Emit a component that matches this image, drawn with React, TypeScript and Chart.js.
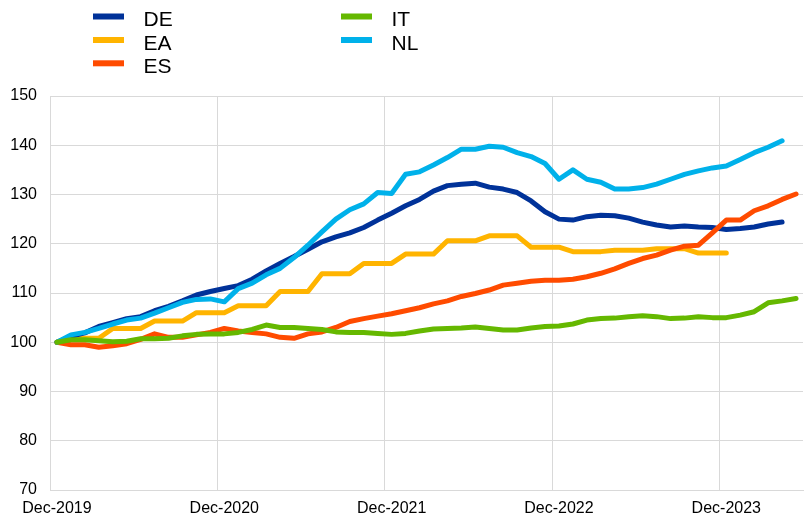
import React, { useEffect, useRef } from 'react';
import { Chart, registerables } from 'chart.js';

Chart.register(...registerables);

// Monthly categories, Dec-2019 .. May-2024
const months = [
  'Dec-2019',
  'Jan-2020', 'Feb-2020', 'Mar-2020', 'Apr-2020', 'May-2020', 'Jun-2020',
  'Jul-2020', 'Aug-2020', 'Sep-2020', 'Oct-2020', 'Nov-2020', 'Dec-2020',
  'Jan-2021', 'Feb-2021', 'Mar-2021', 'Apr-2021', 'May-2021', 'Jun-2021',
  'Jul-2021', 'Aug-2021', 'Sep-2021', 'Oct-2021', 'Nov-2021', 'Dec-2021',
  'Jan-2022', 'Feb-2022', 'Mar-2022', 'Apr-2022', 'May-2022', 'Jun-2022',
  'Jul-2022', 'Aug-2022', 'Sep-2022', 'Oct-2022', 'Nov-2022', 'Dec-2022',
  'Jan-2023', 'Feb-2023', 'Mar-2023', 'Apr-2023', 'May-2023', 'Jun-2023',
  'Jul-2023', 'Aug-2023', 'Sep-2023', 'Oct-2023', 'Nov-2023', 'Dec-2023',
  'Jan-2024', 'Feb-2024', 'Mar-2024', 'Apr-2024', 'May-2024',
];

const tickLabels = ['Dec-2019', 'Dec-2020', 'Dec-2021', 'Dec-2022', 'Dec-2023'];

const DE = [
  100, 101.2, 101.9, 103.2, 104.0, 104.8, 105.2, 106.4, 107.3, 108.4,
  109.6, 110.3, 110.9, 111.5, 112.8, 114.5, 116.0, 117.4, 118.9, 120.4,
  121.4, 122.2, 123.3, 124.8, 126.2, 127.7, 129.0, 130.7, 131.8, 132.1,
  132.3, 131.5, 131.1, 130.4, 128.7, 126.5, 125.0, 124.8, 125.5, 125.8,
  125.7, 125.2, 124.4, 123.8, 123.4, 123.6, 123.4, 123.3, 122.9, 123.1,
  123.4, 124.0, 124.4,
];

const EA = [
  100, 100.8, 100.8, 100.8, 102.8, 102.8, 102.8, 104.3, 104.3, 104.3,
  106.0, 106.0, 106.0, 107.4, 107.4, 107.4, 110.3, 110.3, 110.3, 113.9,
  113.9, 113.9, 116.0, 116.0, 116.0, 117.9, 117.9, 117.9, 120.6, 120.6,
  120.6, 121.6, 121.6, 121.6, 119.3, 119.3, 119.3, 118.4, 118.4, 118.4,
  118.7, 118.7, 118.7, 119.0, 119.0, 119.0, 118.1, 118.1, 118.1,
];

const ES = [
  100, 99.5, 99.5, 99.0, 99.3, 99.7, 100.6, 101.7, 101.0, 101.0,
  101.5, 102.0, 102.8, 102.3, 102.0, 101.7, 101.0, 100.8, 101.7, 102.1,
  103.0, 104.2, 104.8, 105.3, 105.8, 106.4, 107.0, 107.8, 108.4, 109.3,
  109.9, 110.6, 111.6, 112.0, 112.4, 112.6, 112.6, 112.8, 113.3, 114.0,
  114.9, 116.0, 117.0, 117.7, 118.7, 119.5, 119.7, 122.2, 124.8, 124.8,
  126.7, 127.7, 129.0, 130.1,
];

const IT = [
  100, 100.5, 100.5, 100.3, 100.1, 100.2, 100.7, 100.7, 100.8, 101.3,
  101.6, 101.7, 101.7, 102.0, 102.6, 103.5, 103.0, 103.0, 102.8, 102.6,
  102.1, 102.0, 102.0, 101.8, 101.6, 101.8, 102.3, 102.7, 102.8, 102.9,
  103.1, 102.8, 102.5, 102.5, 102.9, 103.2, 103.3, 103.7, 104.5, 104.8,
  104.9, 105.2, 105.4, 105.2, 104.8, 104.9, 105.2, 105.0, 105.0, 105.5,
  106.2, 108.0, 108.4, 108.9,
];

const NL = [
  100, 101.5, 102.0, 102.8, 103.7, 104.5, 104.9, 105.9, 107.0, 108.1,
  108.7, 108.8, 108.2, 110.9, 112.0, 113.7, 115.0, 117.2, 119.7, 122.4,
  125.0, 126.9, 128.1, 130.4, 130.2, 134.1, 134.6, 136.0, 137.5, 139.2,
  139.2, 139.8, 139.6, 138.5, 137.7, 136.3, 133.1, 135.0, 133.1, 132.5,
  131.1, 131.1, 131.4, 132.1, 133.1, 134.1, 134.8, 135.4, 135.8, 137.1,
  138.5, 139.6, 140.9,
];

const seriesNames = ['DE', 'EA', 'ES', 'IT', 'NL'];
const seriesData = [DE, EA, ES, IT, NL];
const seriesColors = ['#003299', '#ffb400', '#ff4b00', '#65b800', '#00b1ea'];
// drawing order (lower = on top)
const seriesOrder = [3, 4, 2, 0, 1];

const FONT = '"Liberation Sans", Arial, Helvetica, sans-serif';
const TEXT_COLOR = '#000000';
const GRID_COLOR = '#d9d9d9';

// legend layout: column x of swatch, row centre y
const legendCols = [93, 341];
const legendRows = [16.5, 40, 63.3];
const legendSlots = [
  [0, 0],
  [0, 1],
  [0, 2],
  [1, 0],
  [1, 1],
];

const legendPlugin = {
  id: 'twoColumnLegend',
  afterDraw(chart: any) {
    const ctx = chart.ctx;
    ctx.save();
    ctx.font = `21px ${FONT}`;
    ctx.textBaseline = 'alphabetic';
    ctx.textAlign = 'left';
    chart.data.datasets.forEach((ds: any, i: number) => {
      const [c, r] = legendSlots[i];
      const x = legendCols[c];
      const y = legendRows[r];
      ctx.fillStyle = ds.borderColor;
      ctx.fillRect(x, y - 3, 31, 6);
      ctx.fillStyle = TEXT_COLOR;
      ctx.fillText(ds.label, x + 50.5, y + 9.6);
    });
    ctx.restore();
  },
};

export default function App() {
  const canvasRef = useRef<HTMLCanvasElement | null>(null);

  useEffect(() => {
    if (!canvasRef.current) return;
    const chart = new Chart(canvasRef.current, {
      type: 'line',
      data: {
        labels: months,
        datasets: seriesNames.map((name, i) => ({
          label: name,
          data: seriesData[i],
          borderColor: seriesColors[i],
          backgroundColor: seriesColors[i],
          order: seriesOrder[i],
          fill: false,
        })),
      },
      options: {
        responsive: false,
        animation: false,
        layout: { padding: { top: 96, right: 4, bottom: 0, left: 0 } },
        plugins: {
          legend: { display: false },
          tooltip: { enabled: false },
        },
        elements: {
          point: { radius: 0, hoverRadius: 0 },
          line: {
            borderWidth: 5,
            tension: 0,
            borderCapStyle: 'round',
            borderJoinStyle: 'round',
          },
        },
        scales: {
          x: {
            type: 'category',
            offset: true,
            grid: {
              offset: true,
              drawTicks: false,
              lineWidth: 1,
              color: (c: any) => (c.index % 12 === 0 ? GRID_COLOR : 'rgba(0,0,0,0)'),
            },
            border: { color: GRID_COLOR, width: 1 },
            ticks: {
              autoSkip: false,
              maxRotation: 0,
              minRotation: 0,
              padding: 9,
              color: TEXT_COLOR,
              font: { family: FONT, size: 16 },
              callback: (_v: any, i: number) =>
                tickLabels.includes(months[i]) ? months[i] : '',
            },
            afterFit: (s: any) => {
              s.height = 30;
            },
          },
          y: {
            min: 70,
            max: 150,
            grid: { drawTicks: false, color: GRID_COLOR, lineWidth: 1 },
            border: { color: GRID_COLOR, width: 1 },
            ticks: {
              stepSize: 10,
              padding: 13,
              color: TEXT_COLOR,
              font: { family: FONT, size: 16 },
            },
            afterFit: (s: any) => {
              s.width = 50;
            },
          },
        },
      },
      plugins: [legendPlugin],
    } as any);
    return () => chart.destroy();
  }, []);

  return (
    <div style={{ position: 'absolute', left: 0, top: 0, width: 807, height: 520 }}>
      <canvas ref={canvasRef} width={807} height={520} />
    </div>
  );
}
